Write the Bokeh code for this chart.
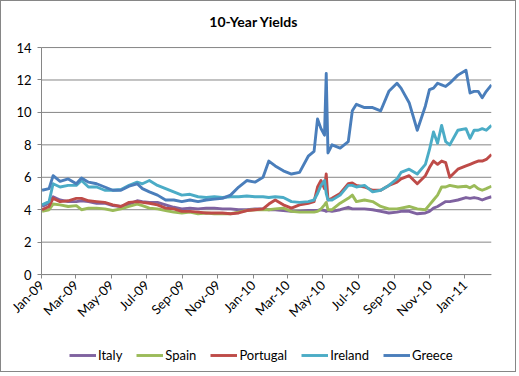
import math
from datetime import datetime
import pandas as pd
from bokeh.plotting import figure
from bokeh.models import (Range1d, FixedTicker, DatetimeTickFormatter, Legend, LegendItem, Label)
from bokeh.embed import file_html
from bokeh.resources import INLINE

dates = [
    "2009-01-02", "2009-01-14", "2009-01-21", "2009-02-02", "2009-02-16", "2009-03-02",
    "2009-03-11", "2009-03-23", "2009-04-06", "2009-04-20", "2009-05-04", "2009-05-18",
    "2009-06-01", "2009-06-15", "2009-06-24", "2009-07-06", "2009-07-20", "2009-08-03",
    "2009-08-17", "2009-08-31", "2009-09-14", "2009-09-28", "2009-10-12", "2009-10-26",
    "2009-11-09", "2009-11-23", "2009-12-07", "2009-12-21", "2010-01-04", "2010-01-18",
    "2010-01-28", "2010-02-08", "2010-02-22", "2010-03-08", "2010-03-22", "2010-04-06",
    "2010-04-16", "2010-04-22", "2010-04-28", "2010-05-04", "2010-05-07", "2010-05-10",
    "2010-05-17", "2010-05-31", "2010-06-14", "2010-06-21", "2010-06-28", "2010-07-12",
    "2010-07-26", "2010-08-09", "2010-08-23", "2010-09-06", "2010-09-13", "2010-09-27",
    "2010-10-11", "2010-10-25", "2010-11-01", "2010-11-08", "2010-11-15", "2010-11-22",
    "2010-11-29", "2010-12-06", "2010-12-20", "2011-01-03", "2011-01-10", "2011-01-17",
    "2011-01-24", "2011-01-31", "2011-02-07", "2011-02-16",
]

greece = [
    5.2, 5.3, 6.1, 5.75, 5.9, 5.6, 5.95, 5.7, 5.6, 5.4, 5.2, 5.2,
    5.45, 5.6, 5.3, 5.1, 4.9, 4.6, 4.6, 4.5, 4.6, 4.5, 4.6, 4.65,
    4.7, 4.9, 5.4, 5.8, 5.7, 6.0, 7.0, 6.7, 6.4, 6.2, 6.3, 7.3,
    7.6, 9.6, 9.0, 8.6, 12.4, 7.5, 8.0, 7.8, 8.2, 10.1, 10.5, 10.3,
    10.3, 10.1, 11.3, 11.8, 11.5, 10.6, 8.9, 10.4, 11.4, 11.5, 11.8, 11.7,
    11.6, 11.8, 12.3, 12.6, 11.2, 11.3, 11.3, 10.9, 11.3, 11.7,
]
ireland = [
    4.3, 4.5, 5.6, 5.4, 5.5, 5.5, 5.8, 5.4, 5.4, 5.2, 5.2, 5.25,
    5.5, 5.7, 5.6, 5.8, 5.5, 5.3, 5.1, 4.9, 4.95, 4.8, 4.75, 4.8,
    4.75, 4.8, 4.8, 4.85, 4.8, 4.8, 4.75, 4.8, 4.75, 4.5, 4.45, 4.5,
    4.6, 5.0, 5.5, 5.8, 5.0, 4.6, 4.6, 4.9, 5.5, 5.5, 5.4, 5.5,
    5.1, 5.2, 5.5, 5.9, 6.3, 6.5, 6.2, 6.8, 7.7, 8.8, 8.1, 9.2,
    8.2, 8.0, 8.9, 9.0, 8.4, 8.9, 8.9, 9.0, 8.9, 9.2,
]
portugal = [
    4.0, 4.2, 4.7, 4.5, 4.55, 4.7, 4.7, 4.55, 4.5, 4.45, 4.3, 4.2,
    4.45, 4.5, 4.45, 4.4, 4.3, 4.1, 4.05, 3.9, 3.9, 3.85, 3.8, 3.8,
    3.8, 3.75, 3.8, 3.95, 4.0, 4.05, 4.35, 4.6, 4.3, 4.1, 4.3, 4.4,
    4.5, 5.4, 5.8, 5.3, 6.2, 4.6, 4.7, 5.0, 5.6, 5.65, 5.5, 5.4,
    5.2, 5.2, 5.5, 5.7, 5.9, 6.1, 5.6, 6.1, 6.6, 7.0, 6.8, 7.0,
    6.9, 6.0, 6.5, 6.7, 6.8, 6.9, 7.0, 7.0, 7.1, 7.4,
]
spain = [
    3.9, 4.0, 4.35, 4.3, 4.2, 4.25, 4.0, 4.1, 4.1, 4.05, 3.95, 4.05,
    4.2, 4.35, 4.25, 4.1, 4.05, 3.95, 3.85, 3.8, 3.85, 3.75, 3.8, 3.75,
    3.75, 3.75, 3.85, 3.95, 4.0, 4.0, 4.0, 4.05, 4.1, 3.9, 3.85, 3.85,
    3.85, 3.9, 4.05, 4.3, 4.45, 4.0, 4.0, 4.4, 4.7, 4.9, 4.5, 4.6,
    4.5, 4.2, 4.05, 4.05, 4.1, 4.2, 4.05, 4.0, 4.3, 4.6, 4.9, 5.4,
    5.4, 5.5, 5.4, 5.45, 5.35, 5.5, 5.3, 5.2, 5.3, 5.45,
]
italy = [
    4.2, 4.4, 4.8, 4.6, 4.5, 4.5, 4.55, 4.5, 4.4, 4.4, 4.25, 4.2,
    4.35, 4.55, 4.5, 4.45, 4.45, 4.3, 4.15, 4.05, 4.1, 4.05, 4.1, 4.1,
    4.05, 4.05, 4.0, 4.0, 4.05, 4.05, 4.0, 4.0, 3.95, 3.9, 3.9, 3.95,
    3.95, 3.95, 4.0, 3.95, 3.9, 3.95, 3.9, 4.0, 4.15, 4.05, 4.05, 4.05,
    4.0, 3.9, 3.8, 3.85, 3.9, 3.9, 3.75, 3.8, 3.9, 4.1, 4.2, 4.35,
    4.5, 4.5, 4.6, 4.75, 4.7, 4.75, 4.7, 4.6, 4.7, 4.8,
]

series_names = ["Italy", "Spain", "Portugal", "Ireland", "Greece"]
series_values = [italy, spain, portugal, ireland, greece]
series_colors = ["#7F62A0", "#9BBB59", "#BE4B48", "#4BACC6", "#4A7EBB"]

tick_dates = ["2009-01-01", "2009-03-01", "2009-05-01", "2009-07-01", "2009-09-01",
              "2009-11-01", "2010-01-01", "2010-03-01", "2010-05-01", "2010-07-01",
              "2010-09-01", "2010-11-01", "2011-01-01"]
y_ticks = [0, 2, 4, 6, 8, 10, 12, 14]
title_text = "10-Year Yields"

x = pd.to_datetime(dates)
FONT = "Lato"
GRID = "#868686"
axis_start = datetime(2009, 1, 1)
axis_end = datetime(2011, 2, 16)

# The frame covers the whole chart; the value axis sits at 2009-01-01 and the
# date axis at y = 0, so title, tick labels and legend all live inside it.
p = figure(width=516, height=372, output_backend="svg", toolbar_location=None,
           x_axis_type="datetime",
           x_range=Range1d(datetime(2008, 10, 24), axis_end),
           y_range=Range1d(-6.1, 16.84),
           min_border_left=0, min_border_right=26, min_border_top=0, min_border_bottom=0)
p.styles = {"border": "1px solid #868686"}
p.outline_line_color = None
p.xgrid.grid_line_color = None
p.ygrid.grid_line_color = None

# horizontal gridlines between the axis and the right end of the plot area
p.segment(x0=[axis_start] * len(y_ticks), x1=[axis_end] * len(y_ticks),
          y0=y_ticks, y1=y_ticks, line_color=GRID, line_width=1)

ticks_ms = [pd.Timestamp(d).value / 1e6 for d in tick_dates]
p.xaxis.ticker = FixedTicker(ticks=ticks_ms)
fmt = "%b-%y"
p.xaxis.formatter = DatetimeTickFormatter(days=fmt, months=fmt, years=fmt, hours=fmt,
                                          hourmin=fmt, minutes=fmt, minsec=fmt, seconds=fmt,
                                          milliseconds=fmt, microseconds=fmt, context=None)
p.xaxis.major_label_orientation = math.pi / 4
p.xaxis.fixed_location = 0
p.xaxis.bounds = (pd.Timestamp(axis_start).value / 1e6, pd.Timestamp(axis_end).value / 1e6)
p.yaxis.ticker = FixedTicker(ticks=y_ticks)
p.yaxis.bounds = (0, 14)
p.yaxis.fixed_location = pd.Timestamp(axis_start).value / 1e6

for ax in (p.xaxis[0], p.yaxis[0]):
    ax.axis_line_color = GRID
    ax.axis_line_width = 1
    ax.major_tick_line_color = GRID
    ax.major_tick_out = 4
    ax.major_tick_in = 0
    ax.minor_tick_line_color = None
    ax.major_label_text_font = FONT
    ax.major_label_text_font_size = "13px"
    ax.major_label_text_color = "#000000"
p.yaxis.major_label_standoff = 6
p.xaxis.major_label_standoff = 4

items = []
for name, vals, col in zip(series_names, series_values, series_colors):
    r = p.line(x, vals, line_color=col, line_width=2.9, line_join="round")
    items.append(LegendItem(label=name, renderers=[r]))

legend = Legend(items=items, orientation="horizontal", location=(68, 8),
                label_text_font=FONT, label_text_font_size="13px", label_text_color="#000000",
                glyph_width=27, label_standoff=2, spacing=14, padding=4, margin=0,
                border_line_color=None, background_fill_alpha=0)
p.add_layout(legend, "center")

p.add_layout(Label(x=datetime(2010, 1, 2), y=15.6, text=title_text, text_font=FONT,
                   text_font_size="14px", text_font_style="bold", text_color="#000000",
                   text_align="center", text_baseline="middle"))

open("out.html", "w").write(file_html(p, INLINE))
